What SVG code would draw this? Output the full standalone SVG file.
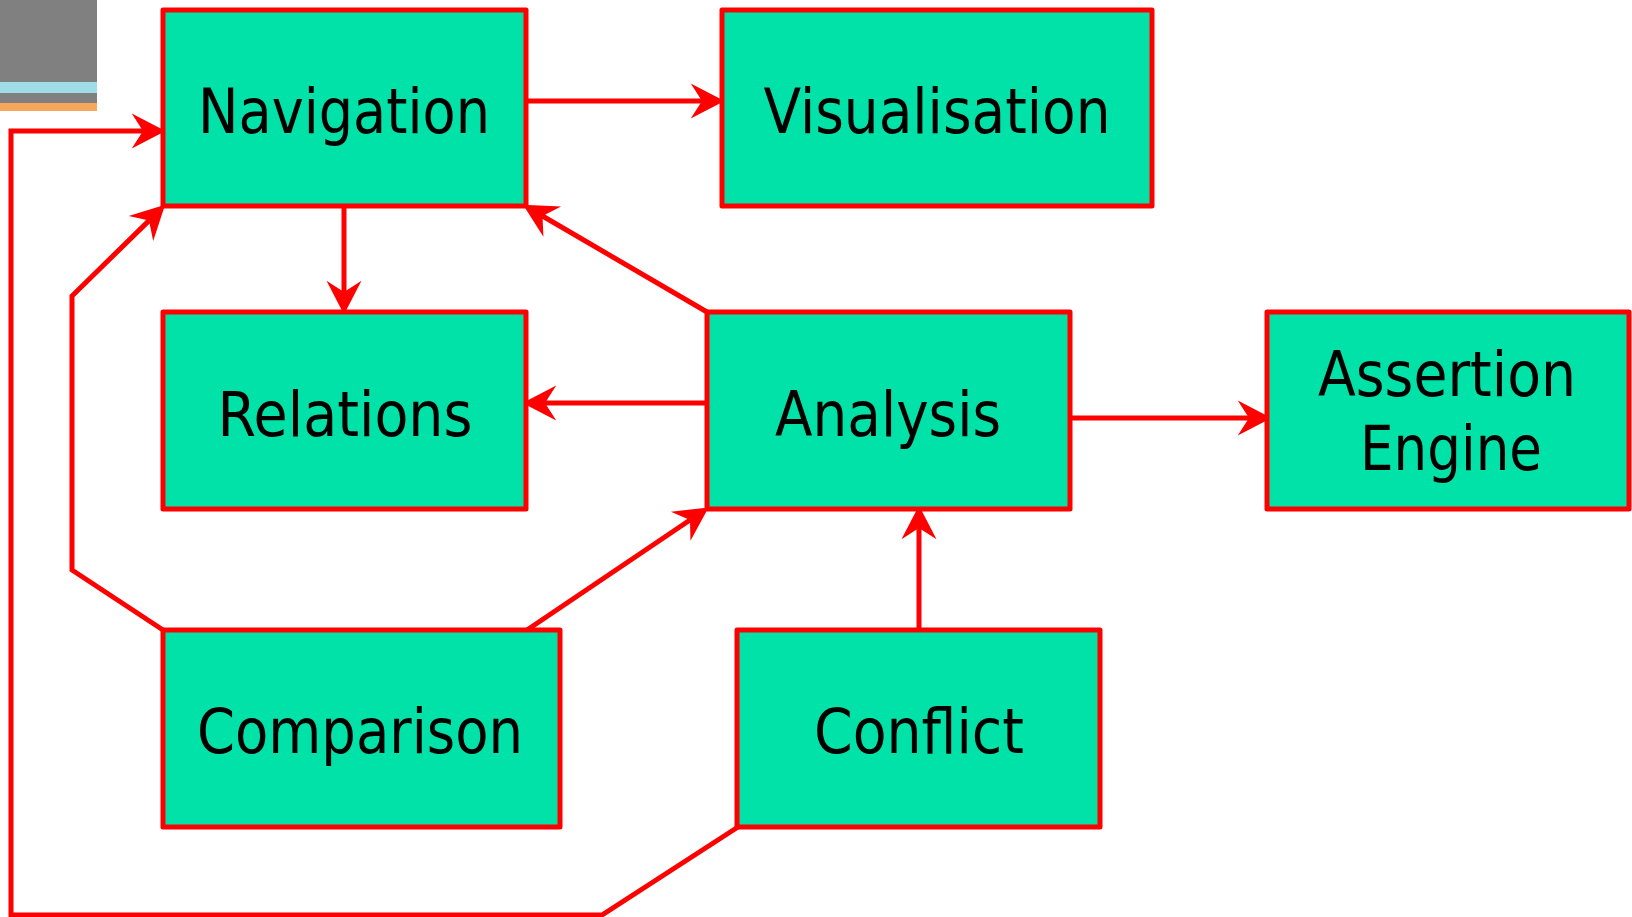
<svg xmlns="http://www.w3.org/2000/svg" width="1632" height="917" viewBox="0 0 1632 917">
<style>
.box{fill:#00E2A8;stroke:#FF0000;stroke-width:5;stroke-linejoin:round}
.lbl{font-family:"DejaVu Sans","Liberation Sans",sans-serif;font-size:62px;fill:#000;text-anchor:middle}
.con{fill:none;stroke:#FF0000;stroke-width:5;stroke-linejoin:miter}
</style>
<defs>
<marker id="arr" markerUnits="userSpaceOnUse" markerWidth="40" markerHeight="40" viewBox="-30 -16 32 32" refX="-18" refY="0" orient="auto" overflow="visible">
<path d="M0,0 L-27,-14 L-18,0 L-27,14 Z" fill="#FF0000"/>
</marker>
</defs>
<rect x="0" y="0" width="97" height="82" fill="#808080"/>
<rect x="0" y="82" width="97" height="11" fill="#9EDCE8"/>
<rect x="0" y="93" width="97" height="10" fill="#808080"/>
<rect x="0" y="103" width="97" height="8" fill="#F8A85C"/>
<g id="connectors">
<path class="con" d="M526,101 L702,101" marker-end="url(#arr)"/>
<path class="con" d="M344,206 L344,292" marker-end="url(#arr)"/>
<path class="con" d="M707,312 L542.5,216" marker-end="url(#arr)"/>
<path class="con" d="M707,403 L545,403" marker-end="url(#arr)"/>
<path class="con" d="M1070,418 L1249,418" marker-end="url(#arr)"/>
<path class="con" d="M163,630 L72,570 L72,296 L149,220.6" marker-end="url(#arr)"/>
<path class="con" d="M527,630 L690,520" marker-end="url(#arr)"/>
<path class="con" d="M919,630 L919,528" marker-end="url(#arr)"/>
<path class="con" d="M738,827 L602,915 L11,915 L11,131 L143,131" marker-end="url(#arr)"/>
</g>
<g id="navigation">
<rect class="box" x="163" y="10" width="363" height="196"/>
<text class="lbl" x="344" y="133" textLength="292" lengthAdjust="spacingAndGlyphs">Navigation</text>
</g>
<g id="visualisation">
<rect class="box" x="722" y="10" width="430" height="196"/>
<text class="lbl" x="937" y="133" textLength="347" lengthAdjust="spacingAndGlyphs">Visualisation</text>
</g>
<g id="relations">
<rect class="box" x="163" y="312" width="363" height="197"/>
<text class="lbl" x="345" y="436" textLength="255" lengthAdjust="spacingAndGlyphs">Relations</text>
</g>
<g id="analysis">
<rect class="box" x="707" y="312" width="363" height="197"/>
<text class="lbl" x="888" y="436" textLength="226" lengthAdjust="spacingAndGlyphs">Analysis</text>
</g>
<g id="assertion-engine">
<rect class="box" x="1267" y="312" width="362" height="197"/>
<text class="lbl" x="1447" y="396" textLength="258" lengthAdjust="spacingAndGlyphs">Assertion</text>
<text class="lbl" x="1451" y="470" textLength="182" lengthAdjust="spacingAndGlyphs">Engine</text>
</g>
<g id="comparison">
<rect class="box" x="163" y="630" width="397" height="197"/>
<text class="lbl" x="360" y="753" textLength="326" lengthAdjust="spacingAndGlyphs">Comparison</text>
</g>
<g id="conflict">
<rect class="box" x="737" y="630" width="363" height="197"/>
<text class="lbl" x="919" y="753" textLength="210" lengthAdjust="spacingAndGlyphs">Conflict</text>
</g>
</svg>
